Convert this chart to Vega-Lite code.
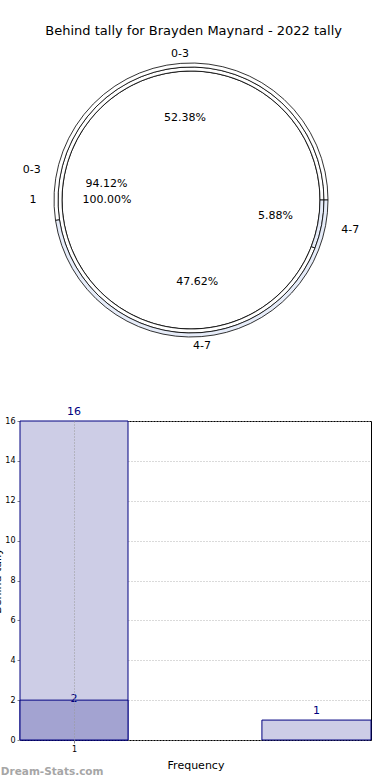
{
  "$schema": "https://vega.github.io/schema/vega-lite/v6.json",
  "padding": {"top": 25, "left": -9, "right": 0, "bottom": 0},
  "background": "white",
  "title": {"text": "Behind tally for Brayden Maynard - 2022 tally", "fontSize": 13, "font": "DejaVu Sans", "fontWeight": "normal", "color": "#000", "anchor": "middle", "offset": 2, "dx": 12},
  "config": {"font": "DejaVu Sans"},
  "bounds": "flush",
  "spacing": 61,
  "resolve": {"scale": {"color": "independent", "x": "independent", "y": "independent", "theta": "independent"}},
  "datasets": {
    "pie": [
      {"ring": "outer", "group": "0-3", "pct": 52.38, "pctText": "52.38%", "ord": 2},
      {"ring": "outer", "group": "4-7", "pct": 47.62, "pctText": "47.62%", "ord": 1},
      {"ring": "middle", "group": "0-3", "pct": 94.12, "pctText": "94.12%", "ord": 2},
      {"ring": "middle", "group": "4-7", "pct": 5.88, "pctText": "5.88%", "ord": 1},
      {"ring": "inner", "group": "1", "pct": 100, "pctText": "100.00%", "ord": 1}
    ],
    "bars": [
      {"x0": 0.5, "x1": 1.5, "xc": 1, "y": 16, "kind": "light"},
      {"x0": 2.74, "x1": 3.75, "xc": 3.245, "y": 1, "kind": "light"},
      {"x0": 0.5, "x1": 1.5, "xc": 1, "y": 2, "kind": "dark"}
    ]
  },
  "vconcat": [
    {
      "width": 342,
      "height": 320,
      "view": {"stroke": null},
      "data": {"name": "pie"},
      "encoding": {
        "theta": {"field": "pct", "type": "quantitative", "stack": true, "scale": {"domain": [0, 100], "range": [1.5708, 7.854]}},
        "order": {"field": "ord", "type": "quantitative"},
        "color": {"field": "group", "type": "nominal", "scale": {"domain": ["0-3", "4-7", "1"], "range": ["#ffffff", "#e6ecf9", "#ffffff"]}, "legend": null}
      },
      "layer": [
        {"transform": [{"filter": "datum.ring === 'inner'"}], "mark": {"type": "arc", "innerRadius": 0, "outerRadius": 129, "stroke": "#222", "strokeWidth": 1}},
        {"transform": [{"filter": "datum.ring === 'middle'"}], "mark": {"type": "arc", "innerRadius": 129, "outerRadius": 133, "stroke": "#000", "strokeWidth": 0.8}},
        {"transform": [{"filter": "datum.ring === 'outer'"}], "mark": {"type": "arc", "innerRadius": 133, "outerRadius": 137, "stroke": "#000", "strokeWidth": 0.8}},
        {"transform": [{"filter": "datum.ring === 'inner'"}], "mark": {"type": "text", "radius": 84, "fontSize": 11}, "encoding": {"text": {"field": "pctText"}, "color": {"value": "#000"}}},
        {"transform": [{"filter": "datum.ring === 'middle'"}], "mark": {"type": "text", "radius": 86, "fontSize": 11}, "encoding": {"text": {"field": "pctText"}, "color": {"value": "#000"}}},
        {"transform": [{"filter": "datum.ring === 'outer'"}], "mark": {"type": "text", "radius": 82, "fontSize": 11}, "encoding": {"text": {"field": "pctText"}, "color": {"value": "#000"}}},
        {"transform": [{"filter": "datum.ring === 'outer'"}], "mark": {"type": "text", "radius": 146, "fontSize": 11}, "encoding": {"text": {"field": "group"}, "color": {"value": "#000"}}},
        {"transform": [{"filter": "datum.ring === 'middle'"}], "mark": {"type": "text", "radius": 162, "fontSize": 11}, "encoding": {"text": {"field": "group"}, "color": {"value": "#000"}}},
        {"transform": [{"filter": "datum.ring === 'inner'"}], "mark": {"type": "text", "radius": 158, "fontSize": 11}, "encoding": {"text": {"field": "group"}, "color": {"value": "#000"}}}
      ]
    },
    {
      "width": 351,
      "height": 319,
      "view": {"stroke": "#000", "strokeWidth": 1},
      "data": {"name": "bars"},
      "title": {"text": "Dream-Stats.com", "orient": "bottom", "anchor": "start", "frame": "bounds", "fontSize": 10.5, "fontWeight": "bold", "color": "#a6a6a6", "offset": -3, "dx": 9},
      "encoding": {
        "x": {"field": "x0", "type": "quantitative", "title": "Frequency", "scale": {"domain": [0.5, 3.75], "nice": false, "zero": false},
          "axis": {"values": [1], "grid": true, "gridDash": [1, 2], "gridColor": "#999", "domain": false, "tickSize": 3, "tickColor": "#888", "labelFontSize": 8, "labelColor": "#000", "titleFontSize": 11, "titleFontWeight": "normal", "titleColor": "#000", "titlePadding": 6, "zindex": 1}},
        "y": {"field": "y", "type": "quantitative", "title": "Behind tally", "scale": {"domain": [0, 16], "nice": false},
          "axis": {"values": [0, 2, 4, 6, 8, 10, 12, 14, 16], "grid": true, "gridDash": [1, 2], "gridColor": "#b4b4b4", "domain": false, "tickSize": 3, "tickColor": "#888", "labelFontSize": 8, "labelColor": "#000", "titleFontSize": 11, "titleFontWeight": "normal", "titleColor": "#000", "titlePadding": 2}}
      },
      "layer": [
        {"mark": {"type": "rect", "stroke": "#000080", "strokeWidth": 1},
          "encoding": {
            "x2": {"field": "x1"},
            "y2": {"datum": 0},
            "color": {"field": "kind", "type": "nominal", "scale": {"domain": ["light", "dark"], "range": ["#cdcde6", "#a3a3d1"]}, "legend": null}
          }},
        {"transform": [{"filter": "datum.kind === 'light'"}], "mark": {"type": "text", "fontSize": 11, "color": "#000080", "baseline": "middle", "dy": -9},
          "encoding": {"x": {"field": "xc", "type": "quantitative"}, "text": {"field": "y", "type": "quantitative"}}},
        {"transform": [{"filter": "datum.kind === 'dark'"}], "mark": {"type": "text", "fontSize": 11, "color": "#000080", "baseline": "middle", "dy": -1},
          "encoding": {"x": {"field": "xc", "type": "quantitative"}, "text": {"field": "y", "type": "quantitative"}}}
      ]
    }
  ]
}
